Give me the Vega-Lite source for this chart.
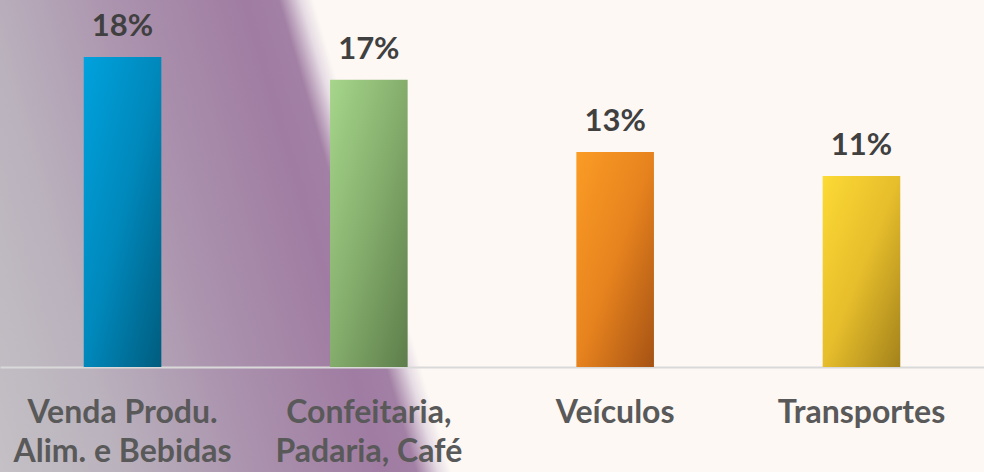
{
  "$schema": "https://vega.github.io/schema/vega-lite/v6.json",
  "width": 984,
  "height": 472,
  "padding": 0,
  "autosize": {"type": "none"},
  "background": "#fdf8f4",
  "config": {
    "view": {
      "stroke": null,
      "fill": {
        "gradient": "linear",
        "x1": 0, "y1": 1, "x2": 1, "y2": 0.86,
        "stops": [
          {"offset": 0, "color": "#c4c0c5"},
          {"offset": 0.12, "color": "#bab2bd"},
          {"offset": 0.25, "color": "#ab93ae"},
          {"offset": 0.38, "color": "#a07ca2"},
          {"offset": 0.415, "color": "#a27fa4"},
          {"offset": 0.437, "color": "#e6dce4"},
          {"offset": 0.45, "color": "#fdf8f4"},
          {"offset": 1, "color": "#fdf8f4"}
        ]
      }
    }
  },
  "data": {
    "values": [
      {"setor": "Venda Produ. Alim. e Bebidas", "valor": 0.1825},
      {"setor": "Confeitaria, Padaria, Café", "valor": 0.169},
      {"setor": "Veículos", "valor": 0.1265},
      {"setor": "Transportes", "valor": 0.1124}
    ]
  },
  "encoding": {
    "x": {
      "field": "setor",
      "type": "nominal",
      "sort": null,
      "scale": {"paddingInner": 0.685, "paddingOuter": 0.34},
      "axis": {
        "title": null,
        "offset": -105,
        "ticks": false,
        "domainColor": "#d9d9d9",
        "domainWidth": 2,
        "labelAngle": 0,
        "labelFont": "Lato",
        "labelFontWeight": "bold",
        "labelFontSize": 32,
        "labelColor": "#595959",
        "labelPadding": 30,
        "labelLineHeight": 39,
        "labelLimit": 400,
        "labelExpr": "datum.label == 'Venda Produ. Alim. e Bebidas' ? ['Venda Produ.', 'Alim. e Bebidas'] : datum.label == 'Confeitaria, Padaria, Café' ? ['Confeitaria,', 'Padaria, Café'] : datum.label"
      }
    },
    "y": {
      "field": "valor",
      "type": "quantitative",
      "scale": {"domain": [0, 0.216], "range": [367, 0], "nice": false, "zero": true},
      "axis": null
    }
  },
  "layer": [
    {
      "mark": {"type": "bar"},
      "encoding": {
        "fill": {
          "condition": [
            {
              "test": "datum.setor == 'Venda Produ. Alim. e Bebidas'",
              "value": {"gradient": "linear", "x1": 0, "y1": 0, "x2": 1, "y2": 1,
                "stops": [{"offset": 0, "color": "#00a2de"}, {"offset": 0.5, "color": "#0088bb"}, {"offset": 1, "color": "#005c7e"}]}
            },
            {
              "test": "datum.setor == 'Confeitaria, Padaria, Café'",
              "value": {"gradient": "linear", "x1": 0, "y1": 0, "x2": 1, "y2": 1,
                "stops": [{"offset": 0, "color": "#a6d68b"}, {"offset": 0.5, "color": "#84ad6c"}, {"offset": 1, "color": "#5d7d4a"}]}
            },
            {
              "test": "datum.setor == 'Veículos'",
              "value": {"gradient": "linear", "x1": 0, "y1": 0, "x2": 1, "y2": 1,
                "stops": [{"offset": 0, "color": "#fb9c25"}, {"offset": 0.5, "color": "#e7831e"}, {"offset": 1, "color": "#a55214"}]}
            }
          ],
          "value": {"gradient": "linear", "x1": 0, "y1": 0, "x2": 1, "y2": 1,
            "stops": [{"offset": 0, "color": "#fdda35"}, {"offset": 0.5, "color": "#e6bd2b"}, {"offset": 1, "color": "#a3821b"}]}
        }
      }
    },
    {
      "mark": {
        "type": "text",
        "font": "Lato",
        "fontWeight": "bold",
        "fontSize": 31,
        "color": "#404040",
        "baseline": "alphabetic",
        "dy": -21
      },
      "encoding": {
        "text": {"field": "valor", "type": "quantitative", "format": ".0%"}
      }
    }
  ]
}
